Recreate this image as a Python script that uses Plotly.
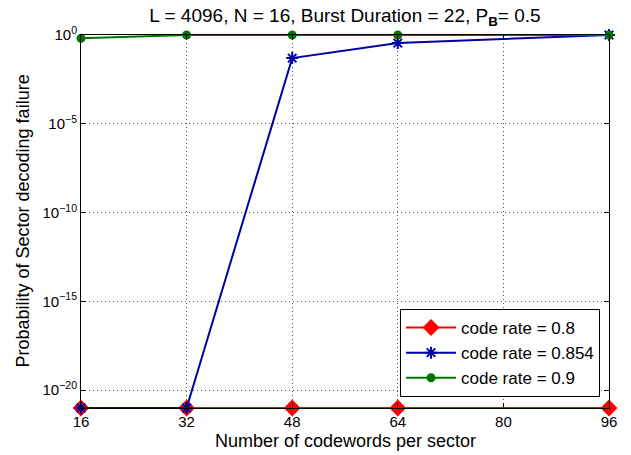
import plotly.graph_objects as go

x = [16, 32, 48, 64, 96]
y_rate08 = [1e-21, 1e-21, 1e-21, 1e-21, 1e-21]
y_rate0854 = [1e-21, 1e-21, 0.05, 0.35, 1.0]
y_rate09 = [0.65, 1.0, 1.0, 1.0, 1.0]
names = ["code rate = 0.8", "code rate = 0.854", "code rate = 0.9"]
xticks = [16, 32, 48, 64, 80, 96]
yticks_exp = [0, -5, -10, -15, -20]

fig = go.Figure()
fig.add_trace(go.Scatter(x=x, y=y_rate08, name=names[0], mode="lines+markers",
                         line=dict(color="#ff0000", width=2),
                         marker=dict(symbol="diamond", size=13, color="#ff0000"), cliponaxis=False))
fig.add_trace(go.Scatter(x=x, y=y_rate0854, name=names[1], mode="lines+markers",
                         line=dict(color="#0000aa", width=2),
                         marker=dict(symbol="asterisk-open", size=10, color="#0000aa",
                                     line=dict(color="#0000aa", width=2)), cliponaxis=False))
fig.add_trace(go.Scatter(x=x, y=y_rate09, name=names[2], mode="lines+markers",
                         line=dict(color="#007700", width=2),
                         marker=dict(symbol="circle", size=9, color="#007700"), cliponaxis=False))

fig.update_layout(
    width=631, height=455,
    margin=dict(l=81, r=22, t=35, b=47),
    paper_bgcolor="white", plot_bgcolor="white",
    font=dict(family="Liberation Sans, Arial, sans-serif", size=15, color="black"),
    title=dict(text="L = 4096, N = 16, Burst Duration = 22, P<sub><b>B</b></sub>= 0.5",
               xref="paper", x=0.5, xanchor="center", yref="container", y=0.967, yanchor="middle",
               font=dict(size=19)),
    showlegend=True,
    legend=dict(x=0.983, y=0.0295, xanchor="right", yanchor="bottom",
                bordercolor="black", borderwidth=1, bgcolor="white",
                font=dict(size=17), tracegroupgap=0, itemwidth=50),
    annotations=[
        dict(text="Number of codewords per sector", xref="paper", yref="paper",
             x=0.5, y=-0.0885, xanchor="center", yanchor="middle", showarrow=False,
             font=dict(size=18)),
        dict(text="Probability of Sector decoding failure", xref="paper", yref="paper",
             x=-0.1117, y=0.5, xanchor="center", yanchor="middle", showarrow=False,
             textangle=-90, font=dict(size=18)),
    ],
)
fig.update_xaxes(range=[16, 96], tickvals=xticks, ticktext=[str(t) for t in xticks],
                 showline=True, linecolor="black", linewidth=1, mirror="ticks",
                 ticks="inside", ticklen=5, tickcolor="black",
                 showgrid=True, gridcolor="#555555", griddash="1px,3px", gridwidth=1,
                 zeroline=False)
fig.update_yaxes(type="log", range=[-21, 0],
                 tickvals=[10.0**e for e in yticks_exp],
                 ticktext=["10<sup>%s</sup>" % (str(e).replace("-", "\u2212")) for e in yticks_exp],
                 showline=True, linecolor="black", linewidth=1, mirror="ticks",
                 ticks="inside", ticklen=5, tickcolor="black",
                 showgrid=True, gridcolor="#555555", griddash="1px,3px", gridwidth=1,
                 zeroline=False)

fig.write_html("out.html")
